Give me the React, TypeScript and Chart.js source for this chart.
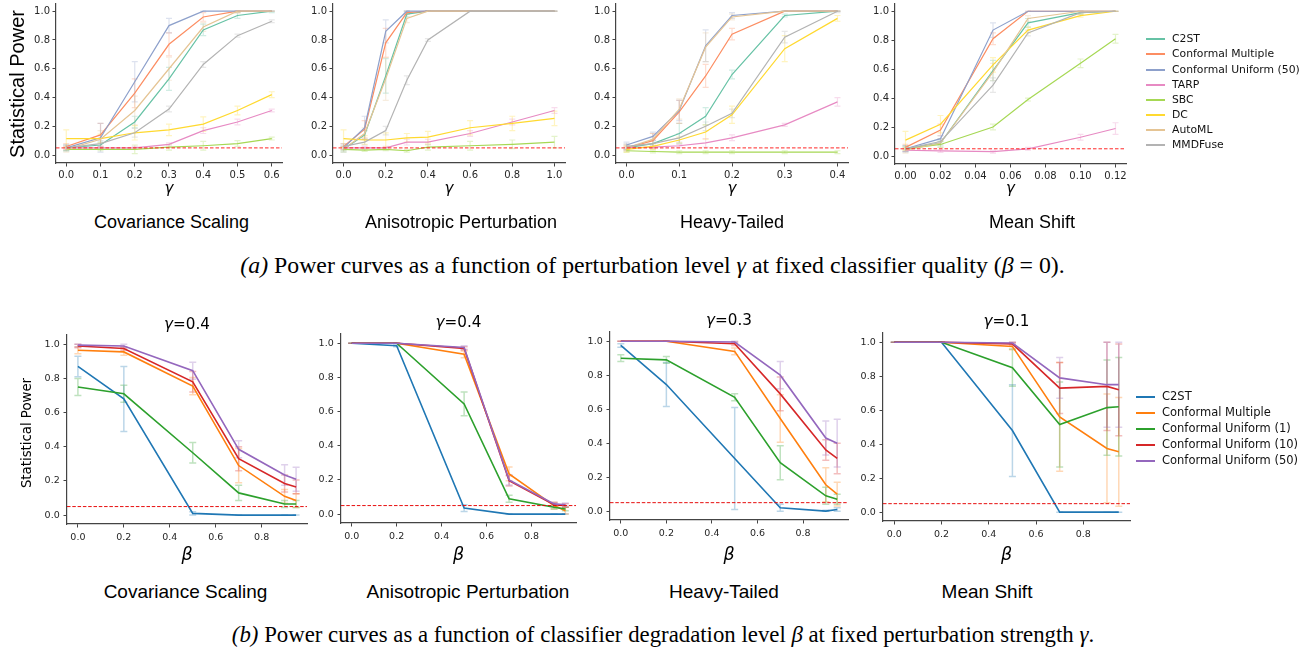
import React, { useEffect, useRef } from 'react';
import { Chart, registerables } from 'chart.js';
Chart.register(...registerables);

// ---------------- series names & colours ----------------
const topSeries = ['C2ST', 'Conformal Multiple', 'Conformal Uniform (50)', 'TARP', 'SBC', 'DC', 'AutoML', 'MMDFuse'];
const topColors = ['#66c2a5', '#fc8d62', '#8da0cb', '#e78ac3', '#a6d854', '#ffd92f', '#e5c494', '#b3b3b3'];
const bottomSeries = ['C2ST', 'Conformal Multiple', 'Conformal Uniform (1)', 'Conformal Uniform (10)', 'Conformal Uniform (50)'];
const bottomColors = ['#1f77b4', '#ff7f0e', '#2ca02c', '#d62728', '#9467bd'];

// ---------------- x values ----------------
const covGammas = [0, 0.1, 0.2, 0.3, 0.4, 0.5, 0.6];
const anisoGammas = [0, 0.1, 0.2, 0.3, 0.4, 0.6, 0.8, 1.0];
const heavyGammas = [0, 0.05, 0.1, 0.15, 0.2, 0.3, 0.4];
const meanGammas = [0, 0.02, 0.05, 0.07, 0.1, 0.12];
const betas = [0, 0.2, 0.5, 0.7, 0.9, 0.95];

// ---------------- tick labels ----------------
const covTicks = [0, 0.1, 0.2, 0.3, 0.4, 0.5, 0.6];
const anisoTicks = [0, 0.2, 0.4, 0.6, 0.8, 1.0];
const heavyTicks = [0, 0.1, 0.2, 0.3, 0.4];
const meanTicks = [0, 0.02, 0.04, 0.06, 0.08, 0.1, 0.12];
const betaTicks = [0, 0.2, 0.4, 0.6, 0.8];
const powerTicks = [0, 0.2, 0.4, 0.6, 0.8, 1.0];
const alphaLevel = 0.05;

// ---------------- (a) top row: rows follow topSeries ----------------
const covPower = [
  [0.05, 0.07, 0.23, 0.53, 0.87, 0.97, 1.0],
  [0.06, 0.14, 0.43, 0.77, 0.96, 1.0, 1.0],
  [0.05, 0.12, 0.51, 0.9, 1.0, 1.0, 1.0],
  [0.05, 0.05, 0.05, 0.075, 0.17, 0.23, 0.31],
  [0.04, 0.04, 0.04, 0.055, 0.065, 0.08, 0.115],
  [0.115, 0.115, 0.155, 0.175, 0.215, 0.31, 0.42],
  [0.04, 0.11, 0.31, 0.6, 0.89, 1.0, 1.0],
  [0.05, 0.08, 0.155, 0.32, 0.63, 0.83, 0.93],
];
const covErr = [
  [0.02, 0.02, 0.04, 0.08, 0.04, 0.02, 0.01],
  [0.02, 0.08, 0.1, 0.08, 0.03, 0.01, 0],
  [0.02, 0.1, 0.14, 0.05, 0, 0, 0],
  [0.01, 0.01, 0.01, 0.01, 0.02, 0.02, 0.01],
  [0.01, 0.01, 0.03, 0.02, 0.03, 0.02, 0.01],
  [0.06, 0.03, 0.05, 0.04, 0.05, 0.03, 0.02],
  [0.02, 0.06, 0.1, 0.08, 0.03, 0.01, 0],
  [0.02, 0.02, 0.03, 0.02, 0.02, 0.01, 0.01],
];
const anisoPower = [
  [0.04, 0.14, 0.55, 0.98, 1, 1, 1, 1],
  [0.06, 0.18, 0.78, 0.99, 1, 1, 1, 1],
  [0.05, 0.19, 0.86, 1, 1, 1, 1, 1],
  [0.05, 0.05, 0.05, 0.09, 0.09, 0.15, 0.23, 0.31],
  [0.04, 0.035, 0.04, 0.03, 0.055, 0.065, 0.075, 0.09],
  [0.115, 0.105, 0.105, 0.12, 0.125, 0.19, 0.22, 0.255],
  [0.04, 0.15, 0.53, 0.95, 1, 1, 1, 1],
  [0.06, 0.09, 0.17, 0.52, 0.8, 1, 1, 1],
];
const anisoErr = [
  [0.02, 0.03, 0.12, 0.02, 0, 0, 0, 0],
  [0.02, 0.06, 0.1, 0.01, 0, 0, 0, 0],
  [0.02, 0.08, 0.08, 0.01, 0, 0, 0, 0],
  [0.01, 0.01, 0.01, 0.02, 0.02, 0.02, 0.02, 0.02],
  [0.01, 0.01, 0.01, 0.01, 0.02, 0.03, 0.03, 0.04],
  [0.06, 0.03, 0.05, 0.03, 0.04, 0.05, 0.05, 0.05],
  [0.02, 0.04, 0.15, 0.03, 0, 0, 0, 0],
  [0.02, 0.02, 0.03, 0.03, 0.01, 0, 0, 0],
];
const heavyPower = [
  [0.05, 0.08, 0.15, 0.27, 0.56, 0.97, 1.0],
  [0.05, 0.1, 0.3, 0.55, 0.84, 1.0, 1.0],
  [0.07, 0.13, 0.31, 0.76, 0.97, 1.0, 1.0],
  [0.05, 0.055, 0.065, 0.085, 0.12, 0.21, 0.37],
  [0.03, 0.025, 0.02, 0.02, 0.02, 0.02, 0.02],
  [0.04, 0.06, 0.105, 0.16, 0.28, 0.74, 0.95],
  [0.05, 0.11, 0.32, 0.75, 0.96, 1.0, 1.0],
  [0.06, 0.08, 0.12, 0.2, 0.29, 0.82, 1.0],
];
const heavyErr = [
  [0.02, 0.03, 0.07, 0.06, 0.03, 0.01, 0],
  [0.02, 0.05, 0.08, 0.08, 0.04, 0, 0],
  [0.02, 0.03, 0.07, 0.11, 0.02, 0, 0],
  [0.01, 0.01, 0.01, 0.03, 0.02, 0.01, 0.03],
  [0.01, 0.01, 0.01, 0.01, 0.01, 0.01, 0.01],
  [0.02, 0.02, 0.02, 0.05, 0.06, 0.09, 0.02],
  [0.02, 0.04, 0.07, 0.1, 0.02, 0, 0],
  [0.02, 0.02, 0.03, 0.03, 0.03, 0.04, 0.01],
];
const meanPower = [
  [0.05, 0.09, 0.59, 0.92, 0.99, 1.0],
  [0.06, 0.18, 0.81, 1.0, 1.0, 1.0],
  [0.05, 0.12, 0.87, 1.0, 1.0, 1.0],
  [0.04, 0.035, 0.03, 0.05, 0.13, 0.19],
  [0.05, 0.08, 0.2, 0.39, 0.64, 0.81],
  [0.11, 0.22, 0.63, 0.87, 0.97, 1.0],
  [0.04, 0.09, 0.58, 0.95, 1.0, 1.0],
  [0.05, 0.1, 0.49, 0.85, 0.99, 1.0],
];
const meanErr = [
  [0.02, 0.02, 0.07, 0.03, 0.01, 0],
  [0.02, 0.04, 0.04, 0, 0, 0],
  [0.02, 0.02, 0.05, 0, 0, 0],
  [0.01, 0.01, 0.01, 0.01, 0.02, 0.04],
  [0.01, 0.02, 0.02, 0.01, 0.03, 0.03],
  [0.06, 0.06, 0.05, 0.02, 0.01, 0],
  [0.02, 0.03, 0.06, 0.02, 0, 0],
  [0.02, 0.02, 0.05, 0.02, 0.01, 0],
];

// ---------------- (b) bottom row: rows follow bottomSeries ----------------
const covBetaPower = [
  [0.87, 0.68, 0.01, 0.0, 0.0, 0.0],
  [0.965, 0.955, 0.755, 0.29, 0.11, 0.085],
  [0.75, 0.71, 0.365, 0.13, 0.065, 0.065],
  [0.99, 0.975, 0.78, 0.33, 0.185, 0.165],
  [0.995, 0.99, 0.845, 0.385, 0.235, 0.21],
];
const covBetaErr = [
  [0.06, 0.19, 0.01, 0, 0, 0],
  [0.02, 0.02, 0.05, 0.1, 0.04, 0.04],
  [0.05, 0.05, 0.06, 0.045, 0.02, 0.02],
  [0.01, 0.01, 0.06, 0.07, 0.05, 0.04],
  [0.01, 0.01, 0.05, 0.05, 0.06, 0.07],
];
const anisoBetaPower = [
  [1.0, 0.985, 0.035, 0.0, 0.0, 0.0],
  [1.0, 1.0, 0.935, 0.235, 0.05, 0.02],
  [1.0, 1.0, 0.645, 0.09, 0.04, 0.03],
  [1.0, 1.0, 0.97, 0.195, 0.055, 0.05],
  [1.0, 1.0, 0.975, 0.2, 0.06, 0.055],
];
const anisoBetaErr = [
  [0, 0.005, 0.02, 0, 0, 0],
  [0, 0, 0.02, 0.04, 0.02, 0.02],
  [0, 0, 0.07, 0.02, 0.01, 0.01],
  [0, 0, 0.01, 0.03, 0.01, 0.01],
  [0, 0, 0.01, 0.03, 0.01, 0.01],
];
const heavyBetaPower = [
  [0.975, 0.745, 0.31, 0.02, 0.0, 0.01],
  [1.0, 1.0, 0.94, 0.545, 0.155, 0.1],
  [0.9, 0.89, 0.67, 0.285, 0.09, 0.07],
  [1.0, 1.0, 0.985, 0.69, 0.36, 0.31],
  [1.0, 1.0, 0.995, 0.8, 0.43, 0.4],
];
const heavyBetaErr = [
  [0.01, 0.13, 0.3, 0.02, 0.005, 0.01],
  [0, 0, 0.02, 0.14, 0.1, 0.07],
  [0.02, 0.02, 0.02, 0.1, 0.05, 0.03],
  [0, 0, 0.01, 0.1, 0.06, 0.09],
  [0, 0, 0.005, 0.08, 0.1, 0.14],
];
const meanBetaPower = [
  [1.0, 1.0, 0.48, 0.0, 0.0, 0.0],
  [1.0, 1.0, 0.975, 0.56, 0.375, 0.355],
  [1.0, 1.0, 0.85, 0.515, 0.615, 0.62],
  [1.0, 1.0, 0.99, 0.73, 0.74, 0.72],
  [1.0, 1.0, 0.995, 0.79, 0.75, 0.75],
];
const meanBetaErr = [
  [0, 0, 0.27, 0, 0, 0],
  [0, 0, 0.02, 0.32, 0.32, 0.32],
  [0, 0, 0.11, 0.25, 0.28, 0.29],
  [0, 0, 0.01, 0.15, 0.26, 0.27],
  [0, 0, 0.005, 0.12, 0.25, 0.25],
];

// ---------------- helpers ----------------
function withAlpha(hex: string, a: number) {
  const n = parseInt(hex.slice(1), 16);
  return `rgba(${(n >> 16) & 255},${(n >> 8) & 255},${n & 255},${a})`;
}

const errorBarPlugin = {
  id: 'errbars',
  beforeDatasetsDraw(chart: any, _args: any, opts: any) {
    const ctx = chart.ctx;
    const xs = chart.scales.x;
    const ys = chart.scales.y;
    chart.data.datasets.forEach((ds: any) => {
      if (!ds.errors) return;
      ctx.save();
      ctx.strokeStyle = ds.errColor;
      ctx.lineWidth = opts.width;
      ds.data.forEach((p: any, i: number) => {
        const e = ds.errors[i];
        if (e === undefined) return;
        const lo = Math.max(0, p.y - e);
        const hi = Math.min(1, p.y + e);
        const px = xs.getPixelForValue(p.x);
        const y1 = ys.getPixelForValue(lo);
        const y2 = ys.getPixelForValue(hi);
        const c = opts.cap;
        ctx.beginPath();
        ctx.moveTo(px, y1); ctx.lineTo(px, y2);
        ctx.moveTo(px - c, y1); ctx.lineTo(px + c, y1);
        ctx.moveTo(px - c, y2); ctx.lineTo(px + c, y2);
        ctx.stroke();
      });
      ctx.restore();
    });
  },
};

const refLinePlugin = {
  id: 'refline',
  afterDatasetsDraw(chart: any, _args: any, opts: any) {
    const ctx = chart.ctx;
    const y = chart.scales.y.getPixelForValue(opts.value);
    const { left, right } = chart.chartArea;
    ctx.save();
    ctx.strokeStyle = opts.color;
    ctx.lineWidth = opts.width;
    ctx.setLineDash(opts.dash);
    ctx.beginPath();
    ctx.moveTo(left, y);
    ctx.lineTo(right, y);
    ctx.stroke();
    ctx.restore();
  },
};

const PAD_L = 50, PAD_R = 20, PAD_T = 10, PAD_B = 30;

type Spec = {
  left: number; right: number; top: number; bottom: number;
  xMin: number; xMax: number; yMin: number; yMax: number;
  xs: number[]; xTicks: number[]; xDigits: number;
  rows: number[][]; errs: number[][]; colors: string[];
  lineWidth: number; errWidth: number; cap: number; errAlpha: number;
  tickSize: number; xPad: number; yPad: number;
  refColor: string; refDash: number[];
};

function Panel({ spec }: { spec: Spec }) {
  const ref = useRef<HTMLCanvasElement>(null);
  const W = spec.right - spec.left + PAD_L + PAD_R;
  const H = spec.bottom - spec.top + PAD_T + PAD_B;
  useEffect(() => {
    const datasets = spec.rows.map((row, si) => ({
      data: row.map((v, i) => ({ x: spec.xs[i], y: v })),
      borderColor: spec.colors[si],
      borderWidth: spec.lineWidth,
      pointRadius: 0,
      fill: false,
      tension: 0,
      order: -si,
      errors: spec.errs[si],
      errColor: withAlpha(spec.colors[si], spec.errAlpha),
    }));
    const axisColor = '#444';
    const tickFont = { family: 'DejaVu Sans', size: spec.tickSize };
    const chart = new Chart(ref.current as HTMLCanvasElement, {
      type: 'line',
      data: { datasets } as any,
      options: {
        animation: false,
        responsive: false,
        devicePixelRatio: 1,
        layout: { padding: { left: 0, top: PAD_T, right: PAD_R, bottom: 0 } },
        plugins: {
          legend: { display: false },
          tooltip: { enabled: false },
          errbars: { width: spec.errWidth, cap: spec.cap },
          refline: { value: alphaLevel, color: spec.refColor, width: 1, dash: spec.refDash },
        } as any,
        scales: {
          x: {
            type: 'linear',
            min: spec.xMin,
            max: spec.xMax,
            afterFit: (s: any) => { s.height = PAD_B; },
            afterBuildTicks: (s: any) => { s.ticks = spec.xTicks.map((v) => ({ value: v })); },
            ticks: {
              autoSkip: false, maxRotation: 0, minRotation: 0,
              padding: spec.xPad, color: '#262626', font: tickFont,
              callback: (v: any) => Number(v).toFixed(spec.xDigits),
            },
            grid: { drawOnChartArea: false, drawTicks: true, tickLength: 3.5, color: axisColor, lineWidth: 1 },
            border: { display: true, color: axisColor, width: 1.2 },
          },
          y: {
            type: 'linear',
            min: spec.yMin,
            max: spec.yMax,
            afterFit: (s: any) => { s.width = PAD_L; },
            afterBuildTicks: (s: any) => { s.ticks = powerTicks.map((v) => ({ value: v })); },
            ticks: {
              autoSkip: false, padding: spec.yPad, color: '#262626', font: tickFont,
              callback: (v: any) => Number(v).toFixed(1),
            },
            grid: { drawOnChartArea: false, drawTicks: true, tickLength: 3.5, color: axisColor, lineWidth: 1 },
            border: { display: true, color: axisColor, width: 1.2 },
          },
        },
      } as any,
      plugins: [errorBarPlugin, refLinePlugin],
    });
    return () => chart.destroy();
  }, []);
  return (
    <canvas
      ref={ref}
      width={W}
      height={H}
      style={{ position: 'absolute', left: spec.left - PAD_L, top: spec.top - PAD_T, width: W, height: H }}
    />
  );
}

const topCommon = {
  yMin: -0.055, yMax: 1.05, colors: topColors, lineWidth: 1.2, errWidth: 1.2, cap: 3, errAlpha: 0.3,
  tickSize: 10, xPad: 2.5, yPad: 2.5, refColor: 'rgba(255,0,0,0.85)', refDash: [3.5, 2],
};
const bottomCommon = {
  yMin: -0.052, yMax: 1.054, colors: bottomColors, lineWidth: 1.6, errWidth: 1.5, cap: 3.5, errAlpha: 0.3,
  tickSize: 9.5, xPad: 4.5, yPad: 3.8, refColor: 'rgba(230,0,0,0.95)', refDash: [3.5, 1.8],
  xMin: -0.0475, xMax: 0.9975, xs: betas, xTicks: betaTicks, xDigits: 1,
};

const topSpecs: Spec[] = [
  { ...topCommon, left: 56, right: 282, top: 4, bottom: 163, xMin: -0.03, xMax: 0.63, xs: covGammas, xTicks: covTicks, xDigits: 1, rows: covPower, errs: covErr },
  { ...topCommon, left: 333, right: 565, top: 4, bottom: 163, xMin: -0.05, xMax: 1.05, xs: anisoGammas, xTicks: anisoTicks, xDigits: 1, rows: anisoPower, errs: anisoErr },
  { ...topCommon, left: 616, right: 848, top: 4, bottom: 163, xMin: -0.02, xMax: 0.42, xs: heavyGammas, xTicks: heavyTicks, xDigits: 1, rows: heavyPower, errs: heavyErr },
  { ...topCommon, left: 895, right: 1126, top: 4, bottom: 164, xMin: -0.006, xMax: 0.126, xs: meanGammas, xTicks: meanTicks, xDigits: 2, rows: meanPower, errs: meanErr },
];
const bottomSpecs: Spec[] = [
  { ...bottomCommon, left: 67, right: 307, top: 335, bottom: 524, rows: covBetaPower, errs: covBetaErr },
  { ...bottomCommon, left: 341, right: 576, top: 334, bottom: 523, rows: anisoBetaPower, errs: anisoBetaErr },
  { ...bottomCommon, left: 610, right: 848, top: 332, bottom: 520, rows: heavyBetaPower, errs: heavyBetaErr },
  { ...bottomCommon, left: 883, right: 1130, top: 333, bottom: 521, rows: meanBetaPower, errs: meanBetaErr },
];

const topNames = ['Covariance Scaling', 'Anisotropic Perturbation', 'Heavy-Tailed', 'Mean Shift'];
const topNameX = [171.5, 461, 732, 1032];
const bottomNameX = [185.5, 468, 724, 987];
const bottomGammaLabels = ['0.4', '0.4', '0.3', '0.1'];
const bottomTitleY = [325, 323.3, 320.7, 321.7];

function Txt({ x, y, size, family, children, italic, rotate, color }: any) {
  return (
    <div
      style={{
        position: 'absolute', left: x, top: y, fontSize: size, fontFamily: family, lineHeight: 1,
        whiteSpace: 'nowrap', color: color || '#000', fontStyle: italic ? 'italic' : 'normal',
        transform: `translate(-50%,-50%)${rotate ? ' rotate(-90deg)' : ''}`,
      }}
    >
      {children}
    </div>
  );
}

function Legend({ names, colors, lineX, textX, y0, dy, size, lineW }: any) {
  return (
    <>
      {names.map((n: string, i: number) => (
        <React.Fragment key={n}>
          <div style={{ position: 'absolute', left: lineX, top: Math.round(y0 + i * dy) - 1, width: lineW, height: 2, background: colors[i] }} />
          <div style={{ position: 'absolute', left: textX, top: y0 + i * dy, transform: 'translateY(-50%)', fontFamily: 'DejaVu Sans', fontSize: size, lineHeight: 1, whiteSpace: 'nowrap', color: '#111' }}>{n}</div>
        </React.Fragment>
      ))}
    </>
  );
}

export default function App() {
  const sans = 'Liberation Sans, Arial, sans-serif';
  const dv = 'DejaVu Sans';
  const serif = 'Liberation Serif, Times New Roman, serif';
  return (
    <div style={{ position: 'absolute', left: 0, top: 0, width: 1315, height: 651, background: '#fff', overflow: 'hidden' }}>
      {topSpecs.map((s, i) => <Panel key={'t' + i} spec={s} />)}
      {bottomSpecs.map((s, i) => <Panel key={'b' + i} spec={s} />)}

      <Txt x={17} y={84} size={20} family={sans} rotate>Statistical Power</Txt>
      <Txt x={26.5} y={432.5} size={13.3} family={dv} rotate>Statistical Power</Txt>

      {topSpecs.map((s, i) => (
        <Txt key={'gx' + i} x={(s.left + s.right) / 2} y={188} size={15} family={dv} italic>γ</Txt>
      ))}
      {bottomSpecs.map((s, i) => (
        <Txt key={'bx' + i} x={(s.left + s.right) / 2} y={555} size={17.5} family={dv} italic>β</Txt>
      ))}
      {bottomSpecs.map((s, i) => (
        <Txt key={'bt' + i} x={(s.left + s.right) / 2} y={bottomTitleY[i]} size={15.2} family={dv}>
          <span style={{ fontStyle: 'italic' }}>γ</span>={bottomGammaLabels[i]}
        </Txt>
      ))}
      {topNames.map((n, i) => (
        <Txt key={'tn' + i} x={topNameX[i]} y={222} size={18} family={sans}>{n}</Txt>
      ))}
      {topNames.map((n, i) => (
        <Txt key={'bn' + i} x={bottomNameX[i]} y={591} size={19} family={sans}>{n}</Txt>
      ))}

      <Legend names={topSeries} colors={topColors} lineX={1146} textX={1172} y0={39.3} dy={15.1} size={10.8} lineW={19} />
      <Legend names={bottomSeries} colors={bottomColors} lineX={1136} textX={1162} y0={397.4} dy={15.85} size={11.5} lineW={19} />

      <Txt x={652.5} y={266} size={23.8} family={serif}>
        <i>(a)</i> Power curves as a function of perturbation level <i>γ</i> at fixed classifier quality (<i>β</i> = 0).
      </Txt>
      <Txt x={663} y={635} size={22.8} family={serif}>
        <i>(b)</i> Power curves as a function of classifier degradation level <i>β</i> at fixed perturbation strength <i>γ</i>.
      </Txt>
    </div>
  );
}
